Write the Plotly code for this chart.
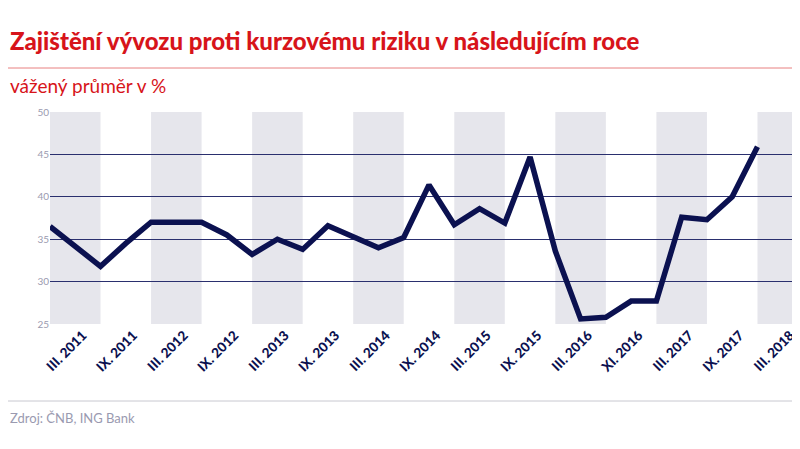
import plotly.graph_objects as go

values = [36.5,34.2,31.8,34.5,37,37,37,35.5,33.2,35,33.8,36.6,35.3,34,35.2,41.4,36.7,38.6,36.9,44.7,33.6,25.6,25.8,27.7,27.7,37.6,37.3,40,45.9]
tick_labels = ["III. 2011","IX. 2011","III. 2012","IX. 2012","III. 2013","IX. 2013","III. 2014","IX. 2014",
               "III. 2015","IX. 2015","III. 2016","XI. 2016","III. 2017","IX. 2017","III. 2018"]
x = list(range(len(values)))
navy = "#0b1150"
red = "#d7141a"

fig = go.Figure()
for i in range(0, 30, 4):
    fig.add_shape(type="rect", xref="x", yref="y", x0=i, x1=i+2, y0=25, y1=50,
                  fillcolor="#e6e6ec", line_width=0, layer="below")
fig.add_trace(go.Scatter(x=x, y=values, mode="lines", line=dict(color=navy, width=5.5),
                         hoverinfo="skip", cliponaxis=False))
fig.update_layout(
    width=800, height=449, margin=dict(l=42, r=0, t=104, b=133),
    paper_bgcolor="white", plot_bgcolor="white", showlegend=False,
    font=dict(family="Lato, Open Sans, sans-serif"),
    xaxis=dict(range=[0, 30], showgrid=False, zeroline=False, tickmode="array", automargin=False,
               tickvals=[1.3 + 2*i for i in range(len(tick_labels))], ticktext=tick_labels,
               tickangle=-45, tickfont=dict(size=13.5, color=navy, family="Lato Black, Lato, sans-serif"),
               ticks=""),
    yaxis=dict(range=[25, 50], tickvals=[25,30,35,40,45,50], showgrid=True, gridcolor="#2a2f6e",
               gridwidth=1, zeroline=False, automargin=False, tickfont=dict(size=10, color="#9a9ab0"), ticks=""),
)
fig.add_annotation(text="<b>Zajištění vývozu proti kurzovému riziku v následujícím roce</b>",
                   xref="paper", yref="paper", x=-42/758, y=1+(104-32)/212, xanchor="left", yanchor="middle",
                   showarrow=False, font=dict(size=24, color=red, family="Lato Black, Lato, sans-serif"))
fig.add_shape(type="line", xref="paper", yref="paper", x0=-42/758, x1=1, y0=1+(104-60)/212, y1=1+(104-60)/212,
              line=dict(color="#e88080", width=1))
fig.add_annotation(text="vážený průměr v %", xref="paper", yref="paper", x=-42/758, y=1+(104-78)/212,
                   xanchor="left", yanchor="middle", showarrow=False, font=dict(size=19, color=red))
fig.add_shape(type="line", xref="paper", yref="paper", x0=-42/758, x1=1, y0=-(393-316)/212, y1=-(393-316)/212,
              line=dict(color="#c8c8d0", width=1))
fig.add_annotation(text="Zdroj: ČNB, ING Bank", xref="paper", yref="paper", x=-42/758, y=-(410-316)/212,
                   xanchor="left", yanchor="middle", showarrow=False, font=dict(size=13, color="#9a9ab0"))
fig.write_html("out.html")
